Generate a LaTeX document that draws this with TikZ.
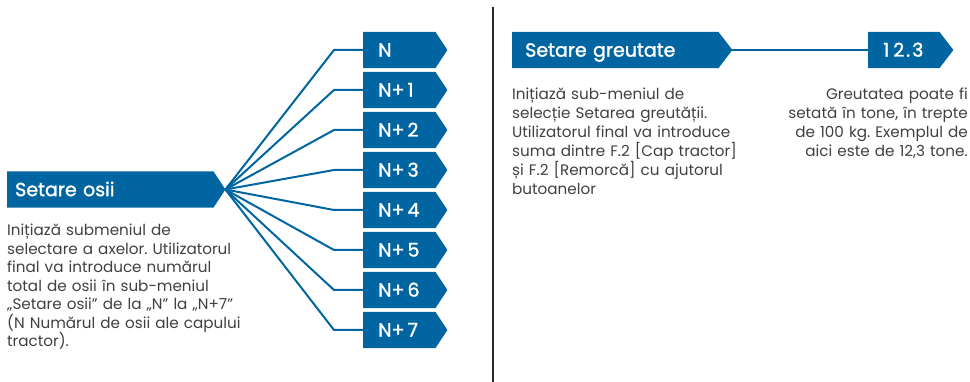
\documentclass[tikz,border=0pt]{standalone}
\usepackage{fontspec}
\setmainfont{Poppins}
\newfontface\lblfont{Poppins}[FakeBold=1.5]
\usetikzlibrary{backgrounds}
\definecolor{bblue}{RGB}{0,101,160}
\definecolor{txtc}{RGB}{64,64,64}
\definecolor{divc}{RGB}{40,40,40}
\newcommand\pls{+\kern3pt}
\begin{document}
\frenchspacing
\begin{tikzpicture}[x=1pt,y=-1pt,
  lbl/.style={rectangle, anchor=west, minimum height=36pt, inner ysep=0pt,
    text=white, align=left, text height=13.3pt, text depth=0pt,
    font=\lblfont\fontsize{19}{21}\selectfont},
  body/.style={anchor=base west, inner sep=0pt, text=txtc, align=left,
    font=\fontsize{15.2}{18.5}\selectfont},
  conn/.style={draw=bblue, line width=2pt}]
\useasboundingbox (0,0) rectangle (970,382);

% divider
\coordinate (dtop) at (493,7);
\coordinate (dbot) at (493,382);
\draw[divc, line width=2.5pt] (dtop) -- (dbot);

% left title
\node[lbl, inner xsep=8pt, text width=190pt] (osii) at (7,189.5) {Setare osii};
\coordinate (osiitip) at ([xshift=12pt]osii.east);

% N boxes
\foreach \i/\t in {0/N,1/N\pls 1,2/N\pls 2,3/N\pls 3,4/N\pls 4,5/N\pls 5,6/N\pls 6,7/N\pls 7}{
  \node[lbl, inner xsep=15pt, text width=42pt] (n\i) at (363,50+40*\i) {\t};
  \coordinate (n\i tip) at ([xshift=12pt]n\i.east);
  \draw[conn] (osiitip) -- ([xshift=-29pt]n\i.west) -- (n\i.west);
}

% right titles
\node[lbl, inner xsep=13pt, text width=180pt] (greut) at (512,50) {Setare greutate};
\coordinate (greuttip) at ([xshift=14pt]greut.east);
\node[lbl, inner xsep=15pt, text width=41pt] (val) at (868,50) {1\kern4pt 2\kern2pt.\kern2pt 3};
\coordinate (valtip) at ([xshift=14pt]val.east);
\draw[conn] (greuttip) -- (val.west);

% arrow-shaped fills
\begin{scope}[on background layer]
\foreach \b in {osii,n0,n1,n2,n3,n4,n5,n6,n7,greut,val}{
  \fill[bblue] (\b.north west) -- (\b.north east) -- (\b tip) -- (\b.south east) -- (\b.south west) -- cycle;
}
\end{scope}

% descriptions
\node[body, text width=260pt] (dosii) at (7,236) {Inițiază submeniul de\\
selectare a axelor. Utilizatorul\\
final va introduce numărul\\
total de osii în sub-meniul\\
„Setare osii” de la „N” la „N+7”\\
(N Numărul de osii ale capului\\
tractor).};

\node[body, text width=250pt, font=\fontsize{15.2}{19.1}\selectfont] (dgreut) at (512,99.3) {Inițiază sub-meniul de\\
selecție Setarea greutății.\\
Utilizatorul final va introduce\\
suma dintre F.2 [Cap tractor]\\
și F.2 [Remorcă] cu ajutorul\\
butoanelor};

\node[body, anchor=base east, align=right, text width=220pt, font=\fontsize{15.2}{19}\selectfont] (dval) at (968,100) {Greutatea poate fi\\
setată în tone, în trepte\\
de 100 kg. Exemplul de\\
aici este de 12,3 tone.};
\end{tikzpicture}
\end{document}
